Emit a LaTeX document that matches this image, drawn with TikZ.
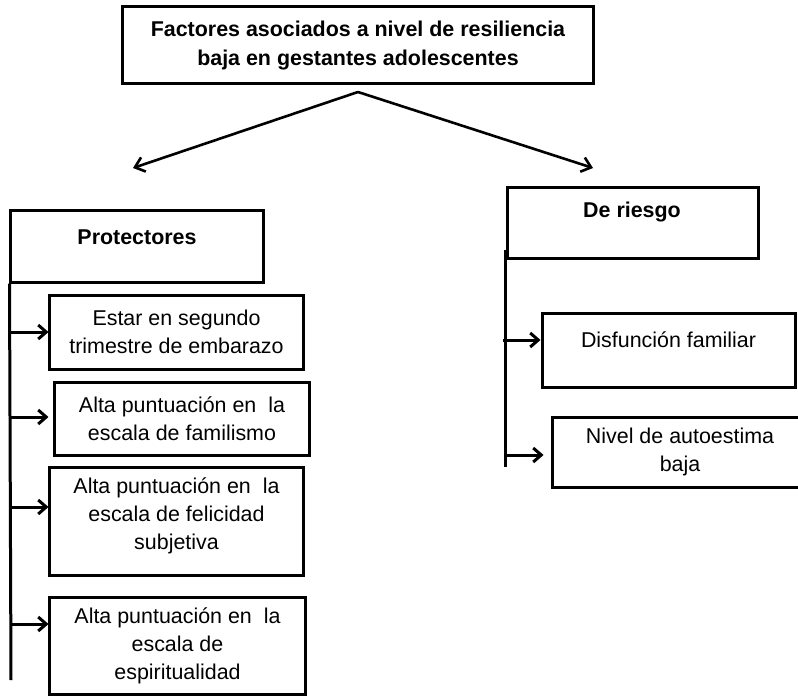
\documentclass[tikz,border=0pt]{standalone}
\usepackage{fontspec}
\setmainfont{Liberation Sans}
\usetikzlibrary{arrows.meta}
\begin{document}
\begin{tikzpicture}[x=1bp,y=-1bp,
  box/.style={draw, line width=3bp, inner sep=0pt, align=center,
    font=\fontsize{21.5}{28}\selectfont},
  txt/.style={inner sep=0pt, align=center, font=\fontsize{21.5}{28}\selectfont},
  bold/.style={font=\bfseries\fontsize{21.5}{29}\selectfont},
  vline/.style={line width=3bp},
  harr/.style={line width=3bp, -{Straight Barb[length=8bp,width=14bp]}},
  tarr/.style={line width=2.6bp, -{Straight Barb[length=9bp,width=15bp]}}]
\useasboundingbox (0,0) rectangle (798,696);

% top box
\node[box, bold, minimum width=470bp, minimum height=77bp] (top) at (358,45.5)
  {Factores asociados a nivel de resiliencia\\baja en gestantes adolescentes};

% main branches
\node[box, minimum width=252bp, minimum height=72bp] (prot) at (137,246) {};
\node[txt, bold] (protT) at (137,237) {Protectores};
\node[box, minimum width=251bp, minimum height=71bp] (dr) at (632.5,222.5) {};
\node[txt, bold] (drT) at (632,212) {De riesgo};

\coordinate (apex) at (358,92);
\coordinate (ltip) at (133,168);
\coordinate (rtip) at (593,168);
\draw[tarr] (apex) -- (ltip);
\draw[tarr] (apex) -- (rtip);

% left items
\node[box, minimum width=253bp, minimum height=74bp] (b1) at (176.5,332)
  {Estar en segundo\\trimestre de embarazo};
\node[box, minimum width=254bp, minimum height=73bp] (b2) at (182,418.5)
  {Alta puntuaci\'on en\ \ la\\escala de familismo};
\node[box, minimum width=253bp, minimum height=108bp] (b3) at (176.5,521)
  {\raisebox{5bp}[\height][\depth]{Alta puntuaci\'on en\ \ la}\\\raisebox{5bp}[\height][\depth]{escala de felicidad}\\\raisebox{5bp}[\height][\depth]{subjetiva}};
\node[box, minimum width=255bp, minimum height=97bp] (b4) at (177.5,645.5)
  {Alta puntuaci\'on en\ \ la\\escala de\\espiritualidad};

\coordinate (lend) at (11,680);
\draw[vline] (prot.south west) -- (lend);
\coordinate (p1) at (11,332);
\coordinate (p2) at (11,417);
\coordinate (p3) at (11,507);
\coordinate (p4) at (11,624);
\draw[harr] (p1) -- (p1 -| b1.west);
\draw[harr] (p2) -- ([xshift=-5bp]p2 -| b2.west);
\draw[harr] (p3) -- (p3 -| b3.west);
\draw[harr] (p4) -- (p4 -| b4.west);

% right items
\node[box, minimum width=253bp, minimum height=74bp] (df) at (668.5,350) {};
\node[txt] (dfT) at (668.5,340) {Disfunci\'on familiar};
\node[box, minimum width=256bp, minimum height=70bp] (na) at (680,452)
  {Nivel de autoestima\\baja};

\coordinate (rtop) at (505,250);
\coordinate (rend) at (505,467);
\draw[vline] (rtop) -- (rend);
\coordinate (q1) at (503,340);
\coordinate (q2) at (505,455);
\draw[harr] (q1) -- (q1 -| df.west);
\draw[harr] (q2) -- ([xshift=-7bp]q2 -| na.west);
\end{tikzpicture}
\end{document}
